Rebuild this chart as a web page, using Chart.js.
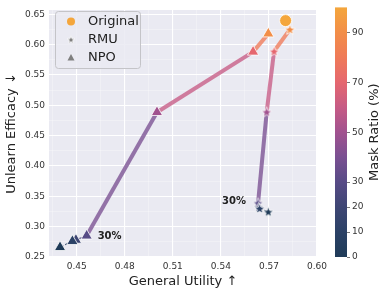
<!DOCTYPE html>
<html>
<head>
<meta charset="utf-8">
<script src="https://cdn.jsdelivr.net/npm/chart.js@4.4.1/dist/chart.umd.min.js"></script>
<style>
  html, body { margin: 0; padding: 0; background: #fff; }
  #wrap { position: relative; width: 387px; height: 293px; }
  #wrap canvas { position: absolute; left: 0; top: 0; }
</style>
</head>
<body>
<div id="wrap">
  <canvas id="main" width="387" height="293"></canvas>
  <canvas id="cbar" width="387" height="293"></canvas>
</div>
<script>
// Données
const originalUtility = [0.5804];
const originalEfficacy = [0.6395];
const originalMask = [100];

const rmuMask = [90, 70, 50, 30, 20, 10, 0];
const rmuUtility = [0.5831, 0.5732, 0.5686, 0.5632, 0.5636, 0.5642, 0.5696];
const rmuEfficacy = [0.625, 0.589, 0.489, 0.339, 0.332, 0.330, 0.3245];

const npoMask = [90, 70, 50, 30, 20, 10, 0];
const npoUtility = [0.5696, 0.5601, 0.5001, 0.4562, 0.4495, 0.4473, 0.4396];
const npoEfficacy = [0.618, 0.588, 0.4885, 0.285, 0.278, 0.276, 0.266];

const cbarTicks = [0, 10, 20, 30, 50, 70, 90];

// palette de la barre de couleur
const cmapStops = [
  [0, '#1f3b58'], [10, '#2b4166'], [20, '#3e4674'], [30, '#574b86'],
  [40, '#7a5092'], [50, '#a1528f'], [60, '#c65b85'], [70, '#e5676f'],
  [80, '#ef7a58'], [90, '#f28e48'], [100, '#f4a63c']
];

function hexToRgb(h) {
  return [parseInt(h.slice(1, 3), 16), parseInt(h.slice(3, 5), 16), parseInt(h.slice(5, 7), 16)];
}

function cmap(v, alpha) {
  let i = 0;
  while (i < cmapStops.length - 2 && v > cmapStops[i + 1][0]) i++;
  const [v0, c0] = cmapStops[i];
  const [v1, c1] = cmapStops[i + 1];
  const t = Math.min(1, Math.max(0, (v - v0) / (v1 - v0)));
  const a = hexToRgb(c0), b = hexToRgb(c1);
  const rgb = a.map((x, k) => Math.round(x + (b[k] - x) * t));
  return `rgba(${rgb[0]},${rgb[1]},${rgb[2]},${alpha === undefined ? 1 : alpha})`;
}

function makeStar(color, r) {
  const c = document.createElement('canvas');
  const size = Math.ceil(r * 2 + 4);
  c.width = c.height = size;
  const g = c.getContext('2d');
  g.translate(size / 2, size / 2 + 0.5);
  g.beginPath();
  for (let i = 0; i < 10; i++) {
    const rad = i % 2 === 0 ? r : r * 0.42;
    const a = -Math.PI / 2 + i * Math.PI / 5;
    g.lineTo(rad * Math.cos(a), rad * Math.sin(a));
  }
  g.closePath();
  g.fillStyle = color;
  g.fill();
  g.strokeStyle = '#ffffff';
  g.lineWidth = 0.8;
  g.stroke();
  return c;
}

function toPoints(xs, ys) {
  return xs.map((x, i) => ({ x: x, y: ys[i] }));
}

function segmentStyle(masks) {
  return {
    borderColor: ctx => {
      const m0 = masks[ctx.p0DataIndex], m1 = masks[ctx.p1DataIndex];
      if (m0 <= 30 && m1 <= 30) return cmap(Math.min(m0, m1) + 5, 0.9);
      return cmap((m0 + m1) / 2, 0.78);
    },
    borderWidth: ctx => {
      const m0 = masks[ctx.p0DataIndex], m1 = masks[ctx.p1DataIndex];
      return (m0 <= 30 && m1 <= 30) ? 1.3 : 4;
    },
    borderDash: ctx => {
      const m0 = masks[ctx.p0DataIndex], m1 = masks[ctx.p1DataIndex];
      return (m0 <= 30 && m1 <= 30) ? [3, 2] : [];
    }
  };
}

const isMajor = (v, step) => Math.round(v * 1000) % step === 0;

// fond gris façon seaborn
const fondPlugin = {
  id: 'fond',
  beforeDraw(chart) {
    const a = chart.chartArea;
    const ctx = chart.ctx;
    ctx.save();
    ctx.fillStyle = '#eaeaf2';
    ctx.fillRect(a.left, a.top, a.right - a.left, a.bottom - a.top);
    ctx.restore();
  }
};

// étiquettes "30%"
const etiquettesPlugin = {
  id: 'etiquettes',
  afterDatasetsDraw(chart) {
    const ctx = chart.ctx;
    const xs = chart.scales.x, ys = chart.scales.y;
    ctx.save();
    ctx.font = 'bold 10px "DejaVu Sans"';
    ctx.fillStyle = '#222';
    ctx.textBaseline = 'middle';
    const i = rmuMask.indexOf(30);
    ctx.textAlign = 'right';
    ctx.fillText('30%', xs.getPixelForValue(rmuUtility[i]) - 12, ys.getPixelForValue(rmuEfficacy[i]) - 2);
    const j = npoMask.indexOf(30);
    ctx.textAlign = 'left';
    ctx.fillText('30%', xs.getPixelForValue(npoUtility[j]) + 11, ys.getPixelForValue(npoEfficacy[j]) + 1);
    ctx.restore();
  }
};

// légende dans le cadre
const legendePlugin = {
  id: 'legende',
  afterDraw(chart) {
    const ctx = chart.ctx;
    ctx.save();
    ctx.beginPath();
    ctx.roundRect(55.5, 11.5, 85, 57, 3);
    ctx.fillStyle = 'rgba(234,234,242,0.85)';
    ctx.fill();
    ctx.strokeStyle = '#c4c4c8';
    ctx.lineWidth = 1;
    ctx.stroke();

    ctx.fillStyle = '#f4a63c';
    ctx.beginPath();
    ctx.arc(71, 21.5, 4, 0, Math.PI * 2);
    ctx.fill();

    ctx.drawImage(starGray, 71 - starGray.width / 2, 39.5 - starGray.height / 2);

    ctx.fillStyle = '#7f7f7f';
    ctx.beginPath();
    ctx.moveTo(71, 54);
    ctx.lineTo(74.5, 60.5);
    ctx.lineTo(67.5, 60.5);
    ctx.closePath();
    ctx.fill();

    ctx.font = '13px "DejaVu Sans"';
    ctx.fillStyle = '#222';
    ctx.textAlign = 'left';
    ctx.textBaseline = 'middle';
    ctx.fillText('Original', 88, 21.5);
    ctx.fillText('RMU', 88, 39.5);
    ctx.fillText('NPO', 88, 57.5);
    ctx.restore();
  }
};

const starGray = makeStar('#7f7f7f', 4);

const tickFont = { family: 'DejaVu Sans', size: 9 };
const titleFont = { family: 'DejaVu Sans', size: 13 };

const scatterChart = new Chart(document.getElementById('main'), {
  type: 'scatter',
  data: {
    datasets: [
      {
        label: 'RMU',
        data: toPoints(rmuUtility, rmuEfficacy),
        showLine: true,
        borderColor: cmap(50),
        borderWidth: 4,
        segment: segmentStyle(rmuMask),
        pointStyle: rmuMask.map(m => makeStar(cmap(m), 5.5)),
        pointRadius: 6,
        order: 2
      },
      {
        label: 'NPO',
        data: toPoints(npoUtility, npoEfficacy),
        showLine: true,
        borderColor: cmap(50),
        borderWidth: 4,
        segment: segmentStyle(npoMask),
        pointStyle: 'triangle',
        pointRadius: 6.5,
        pointBackgroundColor: npoMask.map(m => cmap(m)),
        pointBorderColor: '#ffffff',
        pointBorderWidth: 0.8,
        order: 3
      },
      {
        label: 'Original',
        data: toPoints(originalUtility, originalEfficacy),
        showLine: false,
        pointStyle: 'circle',
        pointRadius: 6,
        pointBackgroundColor: originalMask.map(m => cmap(m)),
        pointBorderColor: '#ffffff',
        pointBorderWidth: 0.8,
        order: 1
      }
    ]
  },
  options: {
    responsive: false,
    animation: false,
    layout: { padding: { top: 5, right: 70, left: 0, bottom: 0 } },
    plugins: { legend: { display: false }, tooltip: { enabled: false } },
    scales: {
      x: {
        type: 'linear',
        min: 0.4327,
        max: 0.60,
        afterBuildTicks: s => {
          const t = [];
          for (let k = 435; k <= 600; k += 15) t.push({ value: k / 1000 });
          s.ticks = t;
        },
        afterFit: s => { s.height = 36; },
        ticks: {
          font: tickFont,
          color: '#333',
          padding: 4,
          maxRotation: 0,
          autoSkip: false,
          callback: v => isMajor(v, 30) ? v.toFixed(2) : ''
        },
        grid: {
          drawTicks: false,
          color: ctx => isMajor(ctx.tick.value, 30) ? '#ffffff' : 'rgba(255,255,255,0.55)',
          lineWidth: ctx => isMajor(ctx.tick.value, 30) ? 1.1 : 0.5
        },
        border: { display: false },
        title: { display: true, text: 'General Utility ↑', font: titleFont, color: '#222', padding: { top: 2, bottom: 4 } }
      },
      y: {
        type: 'linear',
        min: 0.25,
        max: 0.657,
        afterBuildTicks: s => {
          const t = [];
          for (let k = 250; k <= 650; k += 25) t.push({ value: k / 1000 });
          s.ticks = t;
        },
        afterFit: s => { s.width = 49; },
        ticks: {
          font: tickFont,
          color: '#333',
          padding: 4,
          autoSkip: false,
          callback: v => isMajor(v, 50) ? v.toFixed(2) : ''
        },
        grid: {
          drawTicks: false,
          color: ctx => isMajor(ctx.tick.value, 50) ? '#ffffff' : 'rgba(255,255,255,0.55)',
          lineWidth: ctx => isMajor(ctx.tick.value, 50) ? 1.1 : 0.5
        },
        border: { display: false },
        title: { display: true, text: 'Unlearn Efficacy ↓', font: titleFont, color: '#222', padding: { top: 4, bottom: 2 } }
      }
    }
  },
  plugins: [fondPlugin, etiquettesPlugin, legendePlugin]
});

// barre de couleur
const degradePlugin = {
  id: 'degrade',
  beforeDatasetsDraw(chart) {
    const a = chart.chartArea;
    const ys = chart.scales.y;
    const ctx = chart.ctx;
    const grad = ctx.createLinearGradient(0, ys.getPixelForValue(0), 0, ys.getPixelForValue(100));
    cmapStops.forEach(([v, c]) => grad.addColorStop(v / 100, c));
    ctx.save();
    ctx.fillStyle = grad;
    ctx.fillRect(a.left, a.top, a.right - a.left, a.bottom - a.top);
    ctx.font = '13px "DejaVu Sans"';
    ctx.fillStyle = '#222';
    ctx.textAlign = 'center';
    ctx.textBaseline = 'middle';
    ctx.translate(375, (a.top + a.bottom) / 2);
    ctx.rotate(-Math.PI / 2);
    ctx.fillText('Mask Ratio (%)', 0, 0);
    ctx.restore();
  }
};

const barreChart = new Chart(document.getElementById('cbar'), {
  type: 'bar',
  data: { labels: [''], datasets: [] },
  options: {
    responsive: false,
    animation: false,
    layout: { padding: { top: 5, left: 335, right: 0, bottom: 36 } },
    plugins: { legend: { display: false }, tooltip: { enabled: false } },
    scales: {
      x: { display: false },
      y: {
        position: 'right',
        min: 0,
        max: 100,
        afterBuildTicks: s => { s.ticks = cbarTicks.map(v => ({ value: v })); },
        afterFit: s => { s.width = 40; },
        ticks: { font: tickFont, color: '#333', padding: 2, autoSkip: false },
        grid: { drawOnChartArea: false, drawTicks: true, tickLength: 3, color: '#555', lineWidth: 0.8 },
        border: { display: false }
      }
    }
  },
  plugins: [degradePlugin]
});
</script>
</body>
</html>
